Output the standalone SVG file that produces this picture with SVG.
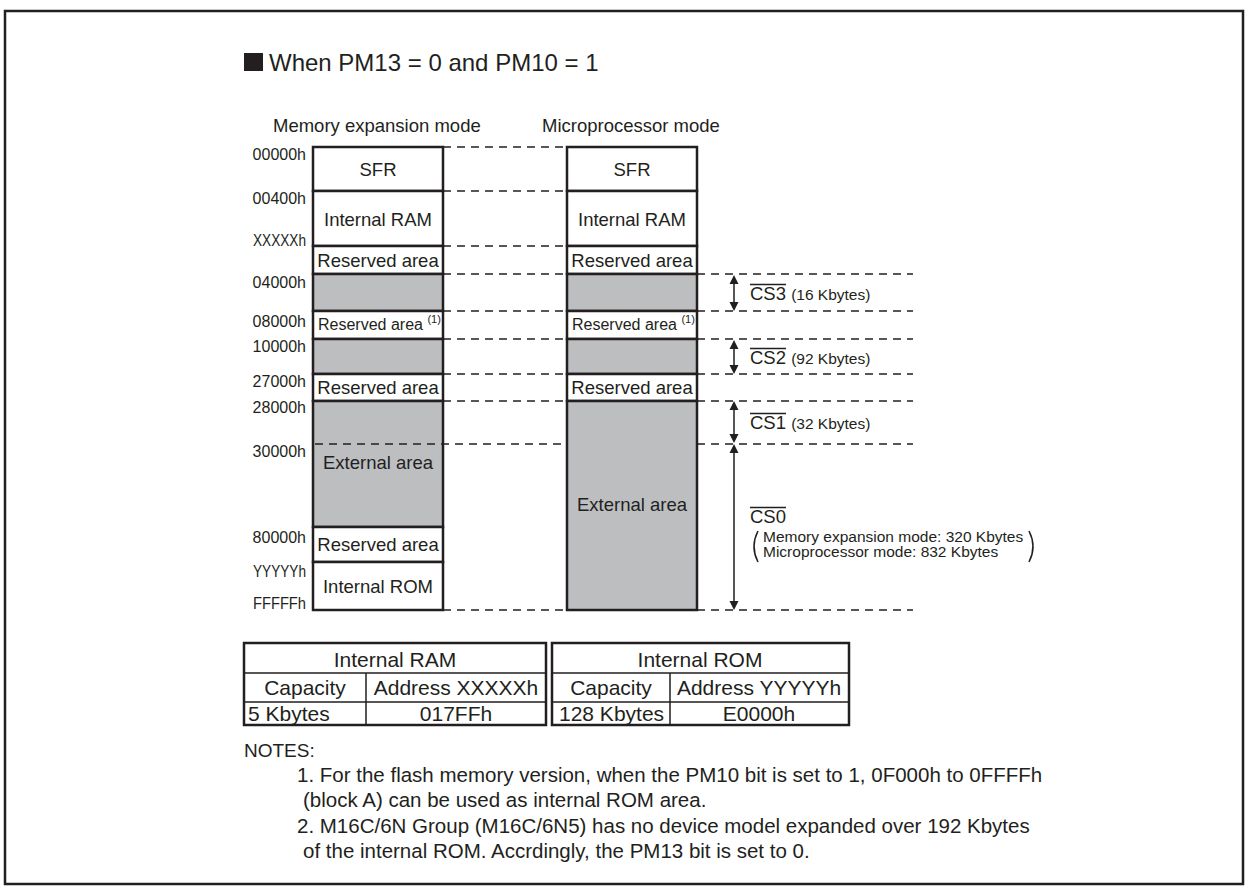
<svg xmlns="http://www.w3.org/2000/svg" width="1248" height="894" viewBox="0 0 1248 894">
<defs>
<style>
text{font-family:"Liberation Sans",Arial,sans-serif;fill:#231f20}
.cell{stroke:#231f20;stroke-width:2.5}
.w{fill:#ffffff}
.g{fill:#bcbec0}
.lbl{font-size:18.5px;text-anchor:middle}
.adr{font-size:16px;text-anchor:end}
.dash{stroke:#231f20;stroke-width:1.3;stroke-dasharray:8 6;fill:none}
.arr{stroke:#231f20;stroke-width:1.5;fill:none}
.ah{fill:#231f20}
.cs{font-size:18.5px}
.small{font-size:15.5px}
.tb{font-size:21px}
.tl{stroke:#231f20;fill:none}
.note{font-size:20.5px}
</style>
</defs>
<rect x="5" y="11" width="1238" height="873" fill="#ffffff" stroke="#231f20" stroke-width="2.5"/>
<g id="title">
<rect x="244" y="53" width="19" height="18" fill="#231f20"/>
<text x="269" y="71" style="font-size:24px">When PM13 = 0 and PM10 = 1</text>
</g>
<g id="headers">
<text x="273" y="132" style="font-size:18.5px">Memory expansion mode</text>
<text x="542" y="132" style="font-size:18.5px">Microprocessor mode</text>
</g>
<g id="addresses">
<text class="adr" x="306" y="160">00000h</text>
<text class="adr" x="306" y="204">00400h</text>
<text x="253" y="246" textLength="53" lengthAdjust="spacingAndGlyphs" style="font-size:16px">XXXXXh</text>
<text class="adr" x="306" y="288">04000h</text>
<text class="adr" x="306" y="327">08000h</text>
<text class="adr" x="306" y="352">10000h</text>
<text class="adr" x="306" y="387">27000h</text>
<text class="adr" x="306" y="413">28000h</text>
<text class="adr" x="306" y="457">30000h</text>
<text class="adr" x="306" y="543">80000h</text>
<text x="253" y="577" textLength="53" lengthAdjust="spacingAndGlyphs" style="font-size:16px">YYYYYh</text>
<text x="253" y="609" textLength="53" lengthAdjust="spacingAndGlyphs" style="font-size:16px">FFFFFh</text>
</g>
<g id="map-memory-expansion">
<g id="l-sfr"><rect class="cell w" x="313" y="147" width="130" height="44"/><text class="lbl" x="378" y="176">SFR</text></g>
<g id="l-ram"><rect class="cell w" x="313" y="191" width="130" height="55"/><text class="lbl" x="378" y="226">Internal RAM</text></g>
<g id="l-res1"><rect class="cell w" x="313" y="246" width="130" height="28"/><text class="lbl" x="378" y="267">Reserved area</text></g>
<g id="l-cs3"><rect class="cell g" x="313" y="274" width="130" height="37"/></g>
<g id="l-res2"><rect class="cell w" x="313" y="311" width="130" height="28"/><text x="318" y="330" style="font-size:16px">Reserved area <tspan style="font-size:11px" dy="-7">(1)</tspan></text></g>
<g id="l-cs2"><rect class="cell g" x="313" y="339" width="130" height="35"/></g>
<g id="l-res3"><rect class="cell w" x="313" y="374" width="130" height="27"/><text class="lbl" x="378" y="394">Reserved area</text></g>
<g id="l-ext"><rect class="cell g" x="313" y="401" width="130" height="126"/><text class="lbl" x="378" y="469">External area</text></g>
<g id="l-res4"><rect class="cell w" x="313" y="527" width="130" height="35"/><text class="lbl" x="378" y="551">Reserved area</text></g>
<g id="l-rom"><rect class="cell w" x="313" y="562" width="130" height="48"/><text class="lbl" x="378" y="593">Internal ROM</text></g>
</g>
<g id="map-microprocessor">
<g id="r-sfr"><rect class="cell w" x="567" y="147" width="130" height="44"/><text class="lbl" x="632" y="176">SFR</text></g>
<g id="r-ram"><rect class="cell w" x="567" y="191" width="130" height="55"/><text class="lbl" x="632" y="226">Internal RAM</text></g>
<g id="r-res1"><rect class="cell w" x="567" y="246" width="130" height="28"/><text class="lbl" x="632" y="267">Reserved area</text></g>
<g id="r-cs3"><rect class="cell g" x="567" y="274" width="130" height="37"/></g>
<g id="r-res2"><rect class="cell w" x="567" y="311" width="130" height="28"/><text x="572" y="330" style="font-size:16px">Reserved area <tspan style="font-size:11px" dy="-7">(1)</tspan></text></g>
<g id="r-cs2"><rect class="cell g" x="567" y="339" width="130" height="35"/></g>
<g id="r-res3"><rect class="cell w" x="567" y="374" width="130" height="27"/><text class="lbl" x="632" y="394">Reserved area</text></g>
<g id="r-ext"><rect class="cell g" x="567" y="401" width="130" height="209"/><text class="lbl" x="632" y="511">External area</text></g>
</g>
<g id="connectors">
<path class="dash" d="M443 147H567M443 191H567M443 246H567M443 274H567M443 311H567M443 339H567M443 374H567M443 401H567M443 610H567"/>
<path class="dash" d="M697 274H913M697 311H913M697 339H913M697 374H913M697 401H913M697 444H913M697 610H913"/>
<path class="dash" d="M315 444H567"/>
<path class="arr" d="M734 282V304M734 347V367M734 408V436M734 451V603"/>
<path class="ah" d="M729.5 284L734 275L738.5 284ZM729.5 302L734 311L738.5 302Z"/>
<path class="ah" d="M729.5 349L734 340L738.5 349ZM729.5 365L734 374L738.5 365Z"/>
<path class="ah" d="M729.5 410L734 401L738.5 410ZM729.5 434L734 443L738.5 434Z"/>
<path class="ah" d="M729.5 453L734 444L738.5 453ZM729.5 601L734 610L738.5 601Z"/>
</g>
<g id="cs-labels">
<g id="cs3"><path class="arr" d="M750 284.5H786"/><text class="cs" x="750" y="300">CS3 <tspan class="small">(16 Kbytes)</tspan></text></g>
<g id="cs2"><path class="arr" d="M750 348.5H786"/><text class="cs" x="750" y="364">CS2 <tspan class="small">(92 Kbytes)</tspan></text></g>
<g id="cs1"><path class="arr" d="M750 413.5H786"/><text class="cs" x="750" y="429">CS1 <tspan class="small">(32 Kbytes)</tspan></text></g>
<g id="cs0"><path class="arr" d="M750 507.5H786"/><text class="cs" x="750" y="523">CS0</text>
<path class="arr" d="M758 531Q750 546.5 758 562"/>
<path class="arr" d="M1029 531Q1037 546.5 1029 562"/>
<text class="small" x="763" y="542">Memory expansion mode: 320 Kbytes</text>
<text class="small" x="763" y="557">Microprocessor mode: 832 Kbytes</text>
</g>
</g>
<g id="table-ram">
<rect class="tl" x="244" y="643" width="302" height="82" stroke-width="2.5"/>
<path class="tl" stroke-width="1.5" d="M244 673H546M244 702H546M366 673V725"/>
<text class="tb" x="395" y="667" text-anchor="middle">Internal RAM</text>
<text class="tb" x="305" y="695" text-anchor="middle">Capacity</text>
<text class="tb" x="456" y="695" text-anchor="middle">Address XXXXXh</text>
<text class="tb" x="248" y="721">5 Kbytes</text>
<text class="tb" x="456" y="721" text-anchor="middle">017FFh</text>
</g>
<g id="table-rom">
<rect class="tl" x="552" y="643" width="297" height="82" stroke-width="2.5"/>
<path class="tl" stroke-width="1.5" d="M552 673H849M552 702H849M670 673V725"/>
<text class="tb" x="700" y="667" text-anchor="middle">Internal ROM</text>
<text class="tb" x="611" y="695" text-anchor="middle">Capacity</text>
<text class="tb" x="759" y="695" text-anchor="middle">Address YYYYYh</text>
<text class="tb" x="559" y="721">128 Kbytes</text>
<text class="tb" x="759" y="721" text-anchor="middle">E0000h</text>
</g>
<g id="notes">
<text class="note" x="244" y="757" style="font-size:19px">NOTES:</text>
<text class="note" x="297" y="782">1. For the flash memory version, when the PM10 bit is set to 1, 0F000h to 0FFFFh</text>
<text class="note" x="303" y="807">(block A) can be used as internal ROM area.</text>
<text class="note" x="297" y="833">2. M16C/6N Group (M16C/6N5) has no device model expanded over 192 Kbytes</text>
<text class="note" x="303" y="858">of the internal ROM. Accrdingly, the PM13 bit is set to 0.</text>
</g>
</svg>
